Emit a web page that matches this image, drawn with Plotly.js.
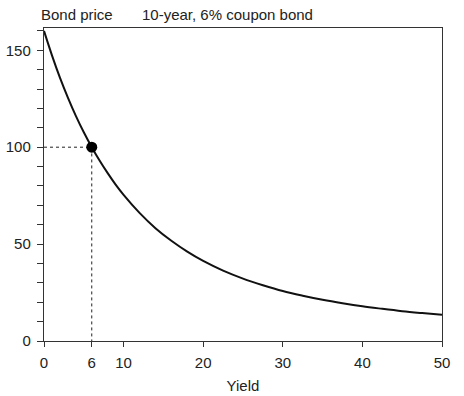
<!DOCTYPE html>
<html><head><meta charset="utf-8">
<script src="https://cdn.plot.ly/plotly-3.0.1.min.js"></script>
<style>html,body{margin:0;padding:0;background:#fff}</style>
</head><body><div id="chart" style="width:464px;height:396px"></div>
<script>
// Yield (%) and bond price
var yields = [0, 1, 2, 3, 4, 5, 6, 7, 8, 9, 10, 12, 14, 16, 18, 20, 22.5, 25, 27.5, 30, 32.5, 35, 37.5, 40, 42.5, 45, 47.5, 50];
var prices = [160, 147.4, 135.9, 125.6, 116.2, 107.7, 100, 93.0, 86.6, 80.7, 75.4, 66.1, 58.2, 51.7, 46.1, 41.3, 36.3, 32.2, 28.8, 25.8, 23.4, 21.3, 19.5, 17.9, 16.6, 15.4, 14.4, 13.5];
var markYield = [6];
var markPrice = [100];
var xTicks = [0, 6, 10, 20, 30, 40, 50];
var yTicks = [0, 50, 100, 150];

var traces = [
  {x: [0, markYield[0], markYield[0]], y: [markPrice[0], markPrice[0], 0], mode: 'lines',
   line: {color: '#222', width: 1, dash: 'dot'}, hoverinfo: 'skip'},
  {x: yields, y: prices, mode: 'lines', line: {color: '#111', width: 2, shape: 'spline'}},
  {x: markYield, y: markPrice, mode: 'markers', marker: {color: '#000', size: 11}}
];
var fontFam = 'Liberation Sans, Arial, sans-serif';
var layout = {
  width: 464, height: 396,
  margin: {l: 44, r: 22, t: 28, b: 55},
  showlegend: false,
  paper_bgcolor: '#fff', plot_bgcolor: '#fff',
  font: {family: fontFam, size: 15, color: '#222'},
  xaxis: {range: [0, 50], tickvals: xTicks, ticktext: xTicks.map(String), ticks: 'outside', ticklen: 5,
          ticklabelstandoff: 3,
          tickcolor: '#333', showgrid: false, zeroline: false, showline: true, linecolor: '#333', linewidth: 1.2,
          mirror: true, title: {text: 'Yield', font: {size: 15}, standoff: 10}},
  yaxis: {range: [0, 161.5], tickvals: yTicks, ticktext: yTicks.map(String), ticks: 'outside', ticklen: 6,
          ticklabelstandoff: 3,
          tickcolor: '#333', showgrid: false, zeroline: false, showline: true, linecolor: '#333', linewidth: 1.2,
          mirror: true, minor: {dtick: 10, ticks: 'outside', ticklen: 6, tickcolor: '#333', showgrid: false}},
  annotations: [
    {text: 'Bond price', xref: 'paper', yref: 'paper', x: -0.012, y: 1.0, xanchor: 'left', yanchor: 'bottom',
     yshift: 3, showarrow: false, font: {size: 15}},
    {text: '10-year, 6% coupon bond', xref: 'paper', yref: 'paper', x: 0.24, y: 1.0, xanchor: 'left', yanchor: 'bottom',
     yshift: 3, showarrow: false, font: {size: 15}}
  ]
};
Plotly.newPlot('chart', traces, layout, {staticPlot: true});
</script></body></html>
